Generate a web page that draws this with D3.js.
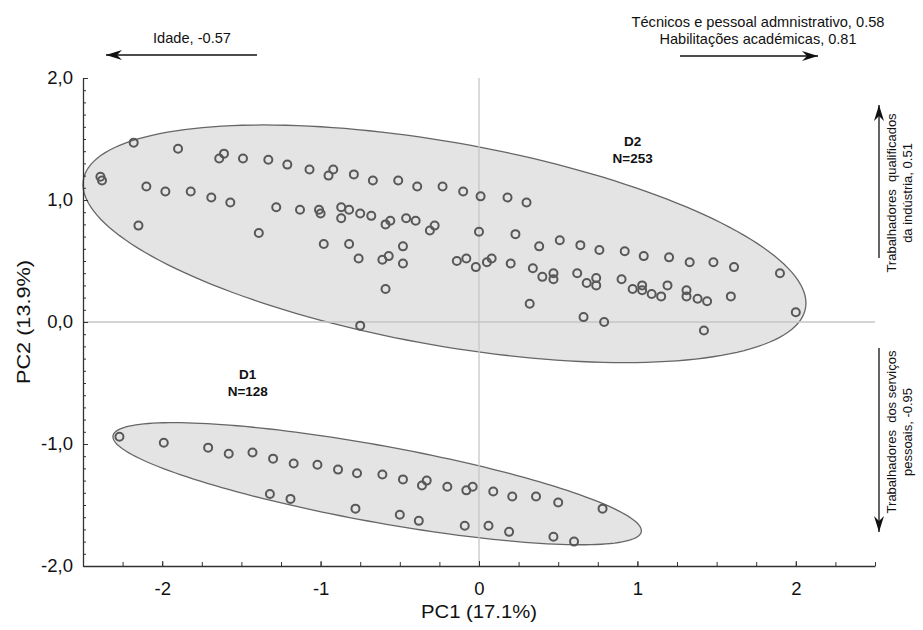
<!DOCTYPE html>
<html>
<head>
<meta charset="utf-8">
<script src="https://cdn.jsdelivr.net/npm/d3@7"></script>
<style>
body { margin: 0; background: #fff; }
text { font-family: "Liberation Sans", Arial, sans-serif; fill: #111; }
</style>
</head>
<body>
<script>
// group D2 scores (PC1, PC2)
var d2Points = [
  [-2.18,1.47],[-1.90,1.42],[-1.64,1.34],[-1.61,1.38],[-1.49,1.34],[-1.33,1.33],[-1.21,1.29],[-1.07,1.25],
  [-0.95,1.20],[-0.92,1.25],[-0.79,1.21],[-0.67,1.16],[-0.51,1.16],[-0.39,1.11],[-0.23,1.11],[-0.10,1.07],
  [0.01,1.03],[0.18,1.02],[0.30,0.98],
  [-2.39,1.19],[-2.38,1.16],[-2.10,1.11],[-1.98,1.07],[-1.82,1.07],[-1.69,1.02],[-1.57,0.98],[-1.28,0.94],
  [-1.13,0.92],[-1.01,0.92],[-1.00,0.89],[-0.87,0.94],[-0.82,0.92],[-0.87,0.85],[-0.75,0.89],[-0.68,0.87],
  [-0.59,0.80],[-0.56,0.83],[-0.46,0.85],[-0.40,0.83],[-0.31,0.75],[-0.28,0.79],[0.00,0.74],
  [-2.15,0.79],[-1.39,0.73],[-0.98,0.64],[-0.82,0.64],[-0.48,0.62],[-0.76,0.52],[-0.61,0.51],[-0.57,0.54],
  [-0.48,0.48],[-0.14,0.50],[-0.08,0.52],[-0.02,0.45],[-0.59,0.27],[-0.75,-0.03],
  [0.23,0.72],[0.38,0.62],[0.51,0.67],[0.64,0.63],[0.76,0.59],[0.92,0.58],[1.04,0.54],[1.20,0.53],
  [1.33,0.49],[1.48,0.49],[1.61,0.45],[1.90,0.40],
  [0.05,0.49],[0.08,0.52],[0.20,0.48],[0.34,0.44],[0.40,0.37],[0.47,0.40],[0.47,0.35],[0.62,0.40],
  [0.68,0.32],[0.74,0.36],[0.74,0.30],[0.90,0.35],[0.97,0.27],[1.03,0.30],[1.03,0.26],[1.09,0.23],
  [1.15,0.21],[1.19,0.30],[1.31,0.26],[1.31,0.21],[1.38,0.19],[1.44,0.17],[1.59,0.21],
  [0.32,0.15],[0.66,0.04],[0.79,0.00],[1.42,-0.07],[2.00,0.08]
];
// group D1 scores
var d1Points = [
  [-2.27,-0.94],[-1.99,-0.99],[-1.71,-1.03],[-1.58,-1.08],[-1.43,-1.07],[-1.30,-1.12],[-1.17,-1.16],
  [-1.02,-1.17],[-0.89,-1.21],[-0.77,-1.24],[-0.61,-1.25],[-0.48,-1.29],[-0.36,-1.34],[-0.33,-1.30],
  [-0.20,-1.35],[-0.08,-1.38],[-0.04,-1.35],[0.09,-1.39],[0.21,-1.43],[0.36,-1.43],[0.50,-1.48],[0.78,-1.53],
  [-1.32,-1.41],[-1.19,-1.45],[-0.78,-1.53],[-0.50,-1.58],[-0.38,-1.63],[-0.09,-1.67],[0.06,-1.67],
  [0.19,-1.72],[0.47,-1.76],[0.60,-1.80]
];

var groupNames = ["D1", "D2"];
var groupN = [128, 253];
// confidence ellipses: centre, half extent in x and y, correlation
var ellipseCenter = [[-0.643, -1.3255], [-0.218, 0.641]];
var ellipseHalfX = [1.668, 2.282];
var ellipseHalfY = [0.5005, 0.974];
var ellipseRho = [-0.770, -0.499];

var xTicks = [-2, -1, 0, 1, 2];
var xTickLabels = ["-2", "-1", "0", "1", "2"];
var yTicks = [-2, -1, 0, 1, 2];
var yTickLabels = ["-2,0", "-1,0", "0,0", "1,0", "2,0"];

// variable loadings shown as arrows
var loadTop = [["Idade, -0.57"], ["Técnicos e pessoal admnistrativo, 0.58", "Habilitações académicas, 0.81"]];
var loadSide = [["Trabalhadores  qualificados", "da indústria, 0.51"], ["Trabalhadores  dos serviços", "pessoais, -0.95"]];

var width = 923, height = 630;
var svg = d3.select("body").append("svg")
    .attr("width", width)
    .attr("height", height);

var x = d3.scaleLinear().domain([-2.5, 2.5]).range([83, 875]);
var y = d3.scaleLinear().domain([-2, 2]).range([566, 78]);

// ellipses
var line = d3.line();
var ell = svg.append("g");
groupNames.forEach(function (g, i) {
    var c = ellipseCenter[i], hx = ellipseHalfX[i], hy = ellipseHalfY[i], r = ellipseRho[i];
    var pts = d3.range(0, 361, 2).map(function (deg) {
        var t = deg * Math.PI / 180;
        return [x(c[0] + hx * Math.cos(t)),
                y(c[1] + hy * (r * Math.cos(t) + Math.sqrt(1 - r * r) * Math.sin(t)))];
    });
    ell.append("path")
        .attr("d", line(pts) + "Z")
        .attr("fill", "#e4e4e4")
        .attr("stroke", "#666")
        .attr("stroke-width", 1.3);
});

// zero lines
svg.append("line")
    .attr("x1", x(0)).attr("x2", x(0))
    .attr("y1", y(2)).attr("y2", y(-2))
    .attr("stroke", "#c6c6c6").attr("stroke-width", 1.3);
svg.append("line")
    .attr("x1", x(-2.5)).attr("x2", x(2.5))
    .attr("y1", y(0)).attr("y2", y(0))
    .attr("stroke", "#c6c6c6").attr("stroke-width", 1.3);

// points
svg.append("g").selectAll("circle")
    .data(d2Points.concat(d1Points))
    .enter().append("circle")
    .attr("cx", function (d) { return x(d[0]); })
    .attr("cy", function (d) { return y(d[1]); })
    .attr("r", 4)
    .attr("fill", "none")
    .attr("stroke", "#585858")
    .attr("stroke-width", 2);

// group labels
var labelAt = [[-1.46, -0.47], [0.97, 1.44]];
groupNames.forEach(function (g, i) {
    var t = svg.append("text")
        .attr("text-anchor", "middle")
        .attr("font-size", 13.5)
        .attr("font-weight", "bold");
    t.append("tspan").attr("x", x(labelAt[i][0])).attr("y", y(labelAt[i][1])).text(g);
    t.append("tspan").attr("x", x(labelAt[i][0])).attr("y", y(labelAt[i][1]) + 17).text("N=" + groupN[i]);
});

// axes
svg.append("g")
    .attr("transform", "translate(" + x(-2.5) + ",0)")
    .call(d3.axisLeft(y).tickValues(yTicks).tickSize(-5).tickSizeOuter(0).tickPadding(10)
        .tickFormat(function (d, i) { return yTickLabels[i]; }));
svg.append("g")
    .attr("transform", "translate(" + x(-2.5) + ",0)")
    .call(d3.axisLeft(y).tickValues(d3.range(-19, 20).map(function (v) { return v / 10; }))
        .tickSize(-3).tickSizeOuter(0).tickFormat(""))
    .select(".domain").remove();
svg.append("g")
    .attr("transform", "translate(0," + y(-2) + ")")
    .call(d3.axisBottom(x).tickValues(xTicks).tickSize(-5).tickSizeOuter(0).tickPadding(16)
        .tickFormat(function (d, i) { return xTickLabels[i]; }));
svg.append("g")
    .attr("transform", "translate(0," + y(-2) + ")")
    .call(d3.axisBottom(x).tickValues(d3.range(-9, 11).map(function (v) { return v / 4; }))
        .tickSize(-4).tickSizeOuter(0).tickFormat(""))
    .select(".domain").remove();

svg.selectAll(".tick line").attr("stroke", "#333");
svg.selectAll(".domain").attr("stroke", "#333").attr("stroke-width", 1.3);
svg.selectAll(".tick text").attr("font-size", 18.5).attr("fill", "#111")
    .attr("font-family", "'Liberation Sans', Arial, sans-serif");

svg.append("text")
    .attr("x", x(0)).attr("y", 618)
    .attr("text-anchor", "middle").attr("font-size", 18)
    .attr("textLength", 116).attr("lengthAdjust", "spacingAndGlyphs")
    .text("PC1 (17.1%)");
svg.append("text")
    .attr("transform", "translate(30," + y(0) + ") rotate(-90)")
    .attr("text-anchor", "middle").attr("font-size", 19)
    .attr("textLength", 124).attr("lengthAdjust", "spacingAndGlyphs")
    .text("PC2 (13.9%)");

// loading arrows
function arrow(x1, y1, x2, y2) {
    var a = Math.atan2(y2 - y1, x2 - x1) * 180 / Math.PI;
    svg.append("line")
        .attr("x1", x1).attr("y1", y1).attr("x2", x2).attr("y2", y2)
        .attr("stroke", "#111").attr("stroke-width", 1.3);
    svg.append("path")
        .attr("d", "M0,0L-16,-5L-11,0L-16,5Z")
        .attr("transform", "translate(" + x2 + "," + y2 + ") rotate(" + a + ")")
        .attr("fill", "#111");
}
arrow(257, 55, 106, 55);
arrow(680, 56, 818, 56);
arrow(879, 258, 879, 105);
arrow(879, 348, 879, 532);

svg.append("text").attr("x", 192).attr("y", 43)
    .attr("text-anchor", "middle").attr("font-size", 15)
    .attr("textLength", 78).attr("lengthAdjust", "spacingAndGlyphs")
    .text(loadTop[0][0]);
var topLen = [253, 197];
loadTop[1].forEach(function (s, i) {
    svg.append("text").attr("x", 758).attr("y", 27 + i * 16.5)
        .attr("text-anchor", "middle").attr("font-size", 15)
        .attr("textLength", topLen[i]).attr("lengthAdjust", "spacingAndGlyphs")
        .text(s);
});
var sideY = [193, 432];
loadSide.forEach(function (lines, k) {
    lines.forEach(function (s, i) {
        svg.append("text")
            .attr("transform", "translate(" + (896 + i * 16) + "," + sideY[k] + ") rotate(-90)")
            .attr("text-anchor", "middle").attr("font-size", 13)
            .style("white-space", "pre")
            .text(s);
    });
});
</script>
</body>
</html>
